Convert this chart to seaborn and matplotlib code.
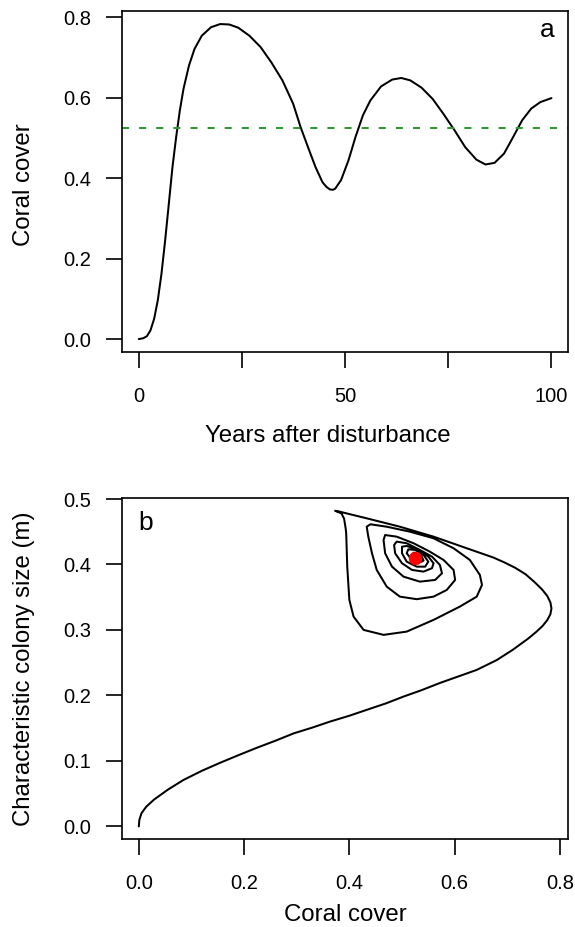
import matplotlib
matplotlib.use("Agg")
import seaborn as sns
import matplotlib.pyplot as plt

# ── panel a: coral cover through time ───────────────────────────────
years = [0, 1.06, 1.95, 2.84, 3.73, 4.61, 5.50, 6.39, 7.28, 8.16, 9.05, 9.94,
         10.83, 12.16, 13.49, 15.26, 17.48, 19.70, 21.9, 24.1, 26.8, 29.5,
         32.1, 34.8, 37.4, 39.2, 41.0, 42.8, 44.5, 45.5, 46.3, 47.0, 47.6, 49.0,
         50.8, 52.5, 54.3, 56.1, 58.7, 61.4, 63.6, 65.8, 68.5, 71.2, 73.8, 76.5,
         79.1, 81.8, 84.0, 86.2, 88.5, 90.7, 92.9, 95.1, 97.3, 100]
cover = [0, 0.002, 0.007, 0.022, 0.051, 0.097, 0.163, 0.246, 0.337, 0.428,
         0.502, 0.568, 0.622, 0.680, 0.721, 0.754, 0.775, 0.783, 0.782, 0.774,
         0.754, 0.726, 0.688, 0.643, 0.585, 0.527, 0.477, 0.428, 0.390, 0.378,
         0.372, 0.371, 0.374, 0.395, 0.444, 0.502, 0.556, 0.593, 0.628, 0.645,
         0.649, 0.643, 0.625, 0.597, 0.560, 0.519, 0.477, 0.446, 0.434, 0.438,
         0.461, 0.502, 0.544, 0.573, 0.589, 0.599]

# equilibrium
eq_cover = 0.525
eq_size = 0.41

# ── panel b: trajectory in cover / colony-size space ────────────────
phase_cover = [0, 0.001, 0.005, 0.014, 0.029, 0.055, 0.085, 0.120, 0.154, 0.190,
               0.224, 0.260, 0.294, 0.330, 0.363, 0.400, 0.433, 0.470, 0.502, 0.537,
               0.572, 0.607, 0.642, 0.680, 0.711, 0.740, 0.755, 0.767, 0.776, 0.782,
               0.784, 0.782, 0.776, 0.766, 0.752, 0.735, 0.715, 0.695, 0.674, 0.623,
               0.560, 0.496, 0.433, 0.400, 0.380, 0.373, 0.385, 0.390, 0.393, 0.394,
               0.396, 0.400, 0.408, 0.427, 0.465, 0.509, 0.560, 0.610, 0.642, 0.652,
               0.648, 0.629, 0.598, 0.560, 0.515, 0.471, 0.440, 0.433, 0.436, 0.443,
               0.452, 0.471, 0.496, 0.528, 0.560, 0.585, 0.601, 0.598, 0.579, 0.553,
               0.522, 0.490, 0.468, 0.465, 0.468, 0.481, 0.503, 0.534, 0.563, 0.576,
               0.572, 0.557, 0.534, 0.509, 0.490, 0.485, 0.487, 0.500, 0.519, 0.541,
               0.557, 0.560, 0.550, 0.531, 0.509, 0.500, 0.500, 0.509, 0.528, 0.544,
               0.550, 0.541, 0.525, 0.512, 0.509, 0.519, 0.531, 0.541, 0.536, 0.522,
               0.518, 0.525, 0.533, 0.528, 0.526]
phase_size = [0, 0.010, 0.020, 0.030, 0.041, 0.056, 0.071, 0.085, 0.097, 0.109,
              0.120, 0.131, 0.142, 0.151, 0.160, 0.169, 0.178, 0.188, 0.198, 0.208,
              0.219, 0.229, 0.239, 0.254, 0.270, 0.287, 0.297, 0.306, 0.315, 0.324,
              0.333, 0.342, 0.352, 0.362, 0.373, 0.385, 0.395, 0.403, 0.4105, 0.4248,
              0.4425, 0.4577, 0.4705, 0.477, 0.481, 0.482, 0.478, 0.470, 0.455, 0.4477,
              0.3967, 0.3459, 0.3204, 0.3001, 0.2925, 0.2975, 0.3154, 0.3357, 0.3509, 0.3688,
              0.384, 0.4069, 0.4248, 0.440, 0.4501, 0.4577, 0.4614, 0.4577, 0.4425, 0.4171,
              0.3917, 0.3662, 0.3509, 0.347, 0.3509, 0.3611, 0.3764, 0.3917, 0.4069, 0.4196,
              0.4324, 0.4425, 0.445, 0.4374, 0.4171, 0.3967, 0.3814, 0.3738, 0.3764, 0.3866,
              0.3993, 0.412, 0.4222, 0.4324, 0.4349, 0.4298, 0.4171, 0.4019, 0.3917, 0.3891,
              0.3943, 0.4019, 0.412, 0.4222, 0.4283, 0.4272, 0.4171, 0.4043, 0.3967, 0.3967,
              0.4043, 0.4146, 0.4222, 0.4232, 0.4171, 0.4069, 0.402, 0.406, 0.4146, 0.418,
              0.412, 0.406, 0.409, 0.413, 0.4095]

sns.set_theme(style="white")
plt.rcParams["font.family"] = ["Liberation Sans", "DejaVu Sans"]
plt.rcParams.update({
    "axes.edgecolor": "black",
    "axes.linewidth": 1.2,
    "xtick.color": "black",
    "ytick.color": "black",
    "text.color": "black",
    "axes.labelcolor": "black",
})

tick_fs = 14.5
label_fs = 17.3
panel_fs = 19

fig = plt.figure(figsize=(5.75, 9.27), dpi=100)
ax_a = fig.add_axes([0.2127, 0.6206, 0.7751, 0.3675])
ax_b = fig.add_axes([0.2127, 0.0949, 0.7751, 0.3675])

line_w = 1.45

# ── panel a ─────────────────────────────────────────────────────────
sns.lineplot(x=years, y=cover, ax=ax_a, color="black", lw=line_w,
             sort=False, estimator=None)
ax_a.axhline(eq_cover, color="#2b9a2b", lw=line_w, dashes=(3.5, 5))
ax_a.set_xlim(-4, 104)
ax_a.set_ylim(-0.0314, 0.8154)
ax_a.set_xticks([0, 25, 50, 75, 100], labels=["0", "", "50", "", "100"])
ax_a.set_yticks([0, 0.2, 0.4, 0.6, 0.8], labels=["0.0", "0.2", "0.4", "0.6", "0.8"])
ax_a.set_xlabel("Years after disturbance", va="baseline", fontsize=label_fs)
ax_a.set_ylabel("Coral cover", va="center", fontsize=label_fs)
ax_a.xaxis.set_label_coords(0.46, -0.266)
ax_a.yaxis.set_label_coords(-0.2205, 0.49)
ax_a.text(0.971, 0.923, "a", transform=ax_a.transAxes, ha="right",
          va="baseline", fontsize=panel_fs)

# ── panel b ─────────────────────────────────────────────────────────
sns.lineplot(x=phase_cover, y=phase_size, ax=ax_b, color="black", lw=line_w,
             sort=False, estimator=None)
sns.scatterplot(x=[eq_cover], y=[eq_size], ax=ax_b, color="red", s=85,
                edgecolor="red", linewidth=0.5, zorder=5)
ax_b.set_xlim(-0.0314, 0.8154)
ax_b.set_ylim(-0.0193, 0.501)
ax_b.set_xticks([0, 0.2, 0.4, 0.6, 0.8], labels=["0.0", "0.2", "0.4", "0.6", "0.8"])
ax_b.set_yticks([0, 0.1, 0.2, 0.3, 0.4, 0.5],
                labels=["0.0", "0.1", "0.2", "0.3", "0.4", "0.5"])
ax_b.set_xlabel("Coral cover", va="baseline", fontsize=label_fs)
ax_b.set_ylabel("Characteristic colony size (m)", va="center", fontsize=label_fs)
ax_b.xaxis.set_label_coords(0.5, -0.2400)
ax_b.yaxis.set_label_coords(-0.2205, 0.5)
ax_b.text(0.035, 0.907, "b", transform=ax_b.transAxes, ha="left",
          va="baseline", fontsize=panel_fs)

for ax in (ax_a, ax_b):
    for side in ("top", "right", "left", "bottom"):
        ax.spines[side].set_visible(True)
        ax.spines[side].set_color("black")
        ax.spines[side].set_linewidth(1.2)
    ax.tick_params(axis="both", direction="out", length=11.5, width=1.2,
                   labelsize=tick_fs, bottom=True, left=True, top=False, right=False)
    ax.tick_params(axis="x", pad=14)
    ax.tick_params(axis="y", pad=11)

fig.savefig("out.png", dpi=100)
